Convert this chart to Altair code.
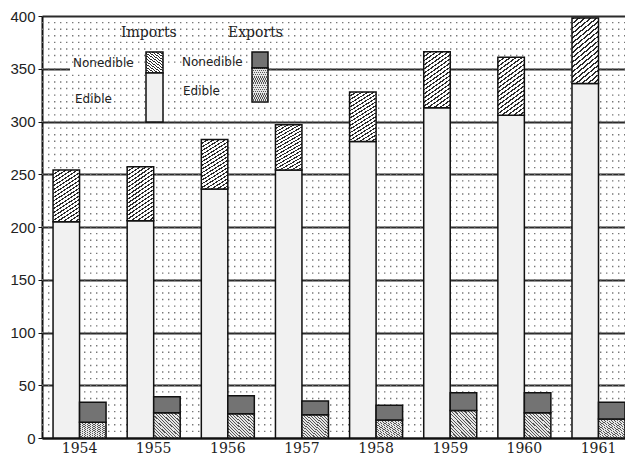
import altair as alt
import pandas as pd

# ---- data (values in the chart's own units) ----
years = ["1954", "1955", "1956", "1957", "1958", "1959", "1960", "1961"]
imports_edible = [205, 206, 236, 254, 281, 313, 306, 336]
imports_total = [254, 257, 283, 297, 328, 366, 361, 398]
exports_edible = [15, 24, 23, 22, 17, 26, 24, 18]
exports_total = [34, 39, 40, 35, 31, 43, 43, 34]
y_ticks = [0, 50, 100, 150, 200, 250, 300, 350, 400]
legend_heads = ["Imports", "Exports"]
legend_items = ["Nonedible", "Edible"]

rows = []
for i, yr in enumerate(years):
    rows.append(dict(year=yr, flow="Imports", part="Edible", lo=0, hi=imports_edible[i]))
    rows.append(dict(year=yr, flow="Imports", part="Nonedible", lo=imports_edible[i], hi=imports_total[i]))
    rows.append(dict(year=yr, flow="Exports", part="Edible", lo=0, hi=exports_edible[i]))
    rows.append(dict(year=yr, flow="Exports", part="Nonedible", lo=exports_edible[i], hi=exports_total[i]))
df = pd.DataFrame(rows)

W, H = 583, 422


def stripes(n, frac, line, bg, x1, y1, x2, y2):
    stops = []
    for k in range(n):
        a, b, c = k / n, (k + frac) / n, (k + 1) / n
        stops += [alt.GradientStop(color=line, offset=a), alt.GradientStop(color=line, offset=b),
                  alt.GradientStop(color=bg, offset=b), alt.GradientStop(color=bg, offset=c)]
    return alt.LinearGradient(gradient="linear", stops=stops, x1=x1, y1=y1, x2=x2, y2=y2)


hatch_imp = stripes(18, 0.36, "#2a2a2a", "#ffffff", 0, 0, 0.4, 1.2)
hatch_exp = stripes(16, 0.35, "#555555", "#e6e6e6", 0, 1, 1, 0)
fill_imp_edible = "#f1f1f1"
fill_exp_nonedible = "#737373"

yscale = alt.Scale(domain=[0, 400], nice=False, zero=True)

base = alt.Chart(df).encode(
    x=alt.X("year:N", title=None, sort=years,
            scale=alt.Scale(paddingInner=0.285, paddingOuter=0.0745, align=1),
            axis=alt.Axis(labelAngle=0, ticks=False, labelPadding=3, labelFont="DejaVu Serif",
                          labelFontSize=14, labelColor="#222", domainColor="#111", domainWidth=2)),
    xOffset=alt.XOffset("flow:N", scale=alt.Scale(domain=["Imports", "Exports"], paddingInner=0, paddingOuter=0)),
    y=alt.Y("lo:Q", title=None, scale=yscale,
            axis=alt.Axis(values=y_ticks, grid=True, gridColor="#2b2b2b", gridWidth=1.8,
                          tickSize=4, tickColor="#111", labelPadding=3, labelFont="Liberation Sans",
                          labelFontSize=15, labelColor="#222", domainColor="#111", domainWidth=2)),
    y2="hi:Q",
)

dot_rows = pd.DataFrame({"v": [k * 6.25 for k in range(1, 64)]})
dots = alt.Chart(dot_rows).mark_rule(strokeDash=[1.4, 4.6], strokeWidth=1.4, color="#777").encode(
    y=alt.Y("v:Q", scale=yscale), x=alt.value(0), x2=alt.value(W))

bar_style = dict(stroke="#111", strokeWidth=1.5)
l1 = base.transform_filter("datum.flow == 'Imports' && datum.part == 'Edible'").mark_bar(fill=fill_imp_edible, **bar_style)
l2 = base.transform_filter("datum.flow == 'Imports' && datum.part == 'Nonedible'").mark_bar(fill=hatch_imp, **bar_style)
l3 = base.transform_filter("datum.flow == 'Exports' && datum.part == 'Edible'").mark_bar(fill=hatch_exp, **bar_style)
l4 = base.transform_filter("datum.flow == 'Exports' && datum.part == 'Nonedible'").mark_bar(fill=fill_exp_nonedible, **bar_style)

one = pd.DataFrame({"k": [0]})
# white strip hiding the 350 line behind the legend
gap = alt.Chart(one).mark_rect(fill="white").encode(
    x=alt.value(28), x2=alt.value(226), y=alt.value(51), y2=alt.value(55))

# legend swatches
lg_imp_top = alt.Chart(one).mark_rect(fill=hatch_imp, **bar_style).encode(
    x=alt.value(104), x2=alt.value(121), y=alt.value(36), y2=alt.value(57))
lg_imp_bot = alt.Chart(one).mark_rect(fill=fill_imp_edible, **bar_style).encode(
    x=alt.value(104), x2=alt.value(121), y=alt.value(57), y2=alt.value(106))
lg_exp_top = alt.Chart(one).mark_rect(fill=fill_exp_nonedible, **bar_style).encode(
    x=alt.value(210), x2=alt.value(226), y=alt.value(36), y2=alt.value(52))
lg_exp_bot = alt.Chart(one).mark_rect(fill=hatch_exp, **bar_style).encode(
    x=alt.value(210), x2=alt.value(226), y=alt.value(52), y2=alt.value(86))

head_style = dict(align="left", baseline="middle", font="DejaVu Serif", fontSize=14, color="#222")
head_imp = alt.Chart(pd.DataFrame({"t": [legend_heads[0]]})).mark_text(**head_style).encode(
    x=alt.value(79), y=alt.value(17), text="t:N")
head_exp = alt.Chart(pd.DataFrame({"t": [legend_heads[1]]})).mark_text(**head_style).encode(
    x=alt.value(186), y=alt.value(17), text="t:N")

item_style = dict(align="left", baseline="middle", font="DejaVu Sans", fontSize=12, color="#222")
it1 = alt.Chart(pd.DataFrame({"t": [legend_items[0]]})).mark_text(**item_style).encode(
    x=alt.value(31), y=alt.value(47), text="t:N")
it2 = alt.Chart(pd.DataFrame({"t": [legend_items[1]]})).mark_text(**item_style).encode(
    x=alt.value(33), y=alt.value(83), text="t:N")
it3 = alt.Chart(pd.DataFrame({"t": [legend_items[0]]})).mark_text(**item_style).encode(
    x=alt.value(140), y=alt.value(46), text="t:N")
it4 = alt.Chart(pd.DataFrame({"t": [legend_items[1]]})).mark_text(**item_style).encode(
    x=alt.value(141), y=alt.value(75), text="t:N")

chart = alt.layer(
    dots, l1, l2, l3, l4, gap, lg_imp_top, lg_imp_bot, lg_exp_top, lg_exp_bot,
    head_imp, head_exp, it1, it2, it3, it4
).properties(
    width=W, height=H,
    autosize=alt.AutoSizeParams(type="none"),
    padding={"left": 34, "top": 8, "right": 0, "bottom": 17},
    background="white",
).configure_view(stroke=None)

chart.save("out.html", embed_options={"renderer": "svg", "actions": False})
